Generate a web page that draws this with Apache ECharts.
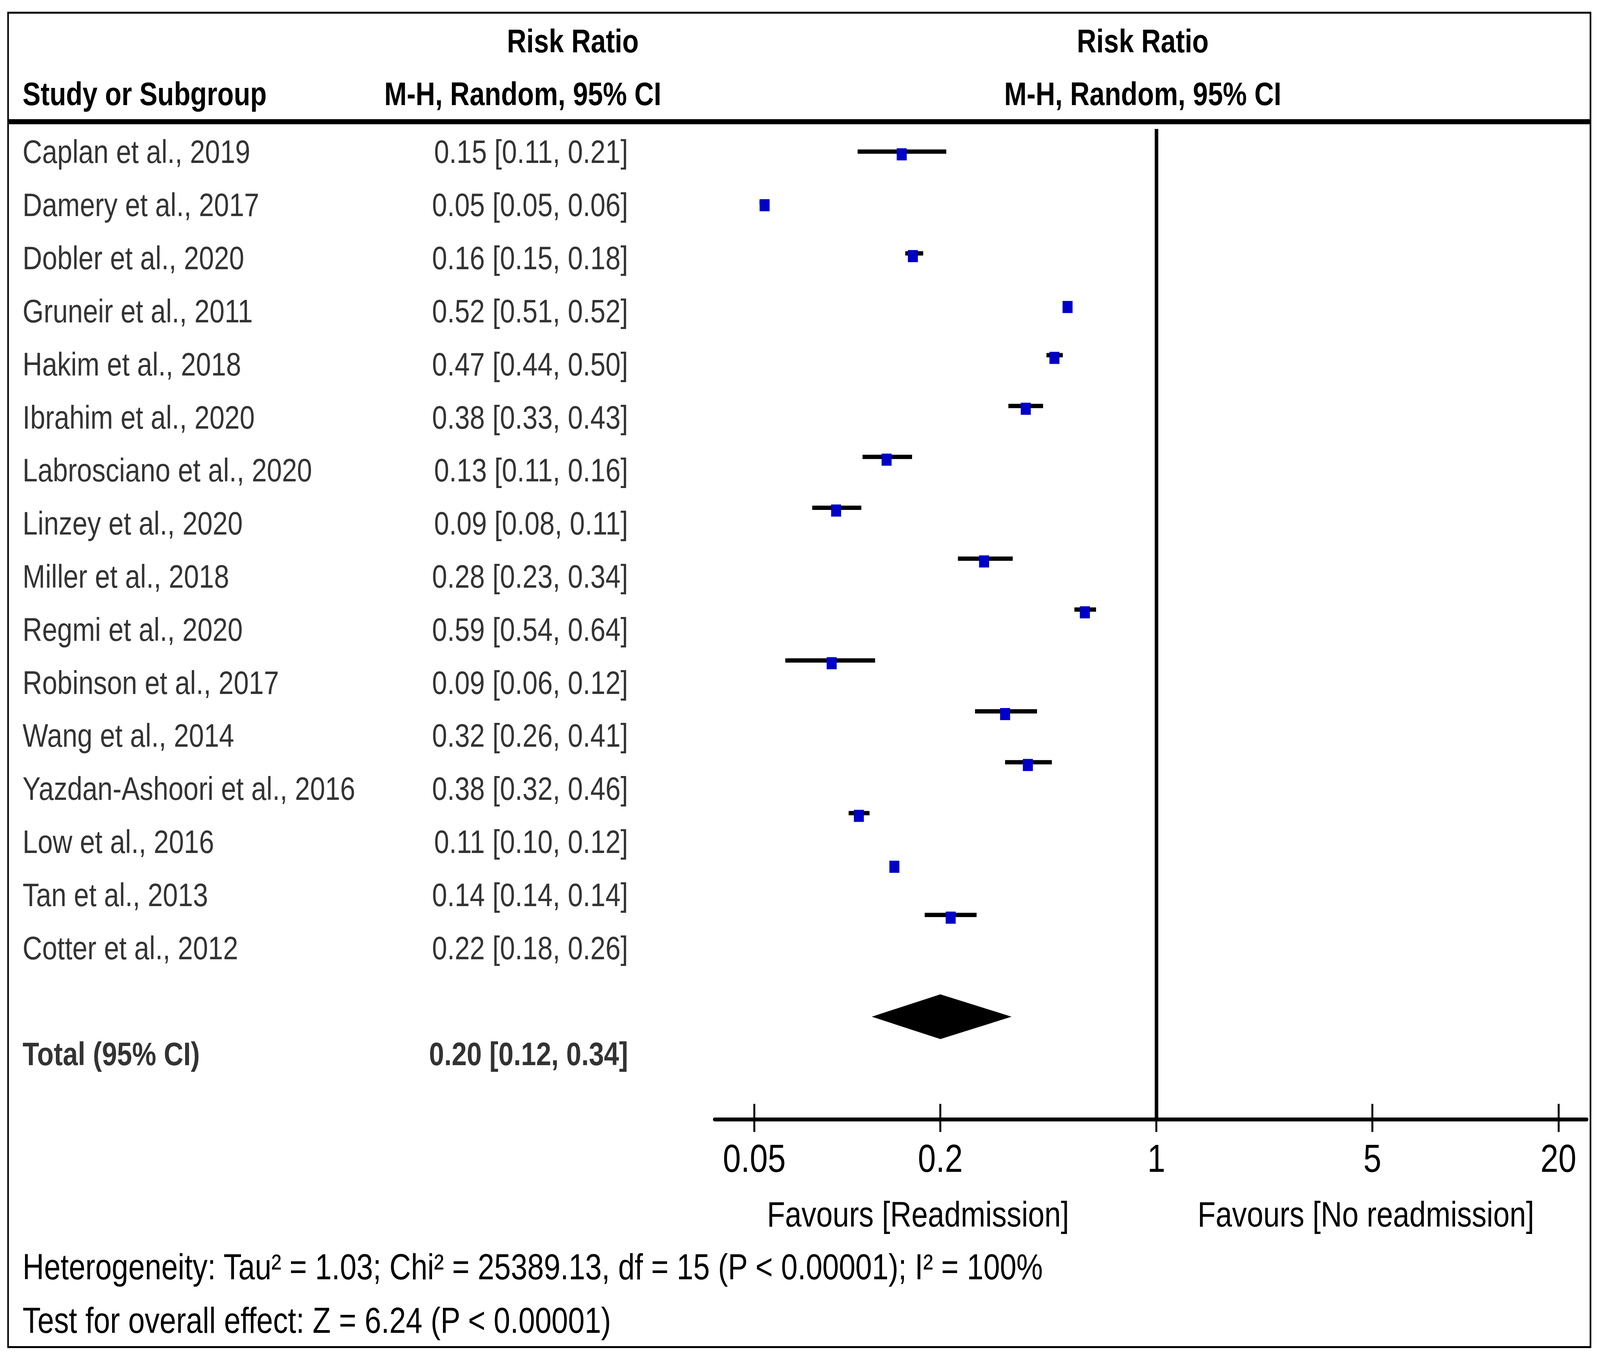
<!DOCTYPE html>
<html>
<head>
<meta charset="utf-8">
<script src="https://cdn.jsdelivr.net/npm/echarts@6/dist/echarts.min.js"></script>
<style>
html,body{margin:0;padding:0;background:#fff;overflow:hidden;width:100%;height:100%;}
#wrap{position:absolute;left:0;top:0;width:4955px;height:3478px;transform-origin:0 0;}
#chart{width:4955px;height:3478px;}
</style>
</head>
<body>
<div id="wrap"><div id="chart"></div></div>
<script>
// ---- data ----
const studies = [
  'Caplan et al., 2019', 'Damery et al., 2017', 'Dobler et al., 2020', 'Gruneir et al., 2011',
  'Hakim et al., 2018', 'Ibrahim et al., 2020', 'Labrosciano et al., 2020', 'Linzey et al., 2020',
  'Miller et al., 2018', 'Regmi et al., 2020', 'Robinson et al., 2017', 'Wang et al., 2014',
  'Yazdan-Ashoori et al., 2016', 'Low et al., 2016', 'Tan et al., 2013', 'Cotter et al., 2012'
];
const riskRatio = [0.150, 0.054, 0.163, 0.516, 0.468, 0.378, 0.134, 0.092, 0.277, 0.587, 0.089, 0.324, 0.384, 0.109, 0.142, 0.216];
const ciLower   = [0.108, 0.052, 0.154, 0.511, 0.441, 0.332, 0.112, 0.077, 0.228, 0.543, 0.063, 0.259, 0.324, 0.101, 0.140, 0.178];
const ciUpper   = [0.209, 0.056, 0.176, 0.522, 0.498, 0.430, 0.162, 0.111, 0.343, 0.638, 0.123, 0.411, 0.459, 0.118, 0.144, 0.262];
const totalLabel = 'Total (95% CI)';
const totalRR = 0.20, totalLower = 0.12, totalUpper = 0.34;
const tickValues = [0.05, 0.2, 1, 5, 20];
const tickLabels = ['0.05', '0.2', '1', '5', '20'];
const heterogeneityText = 'Heterogeneity: Tau\u00B2 = 1.03; Chi\u00B2 = 25389.13, df = 15 (P < 0.00001); I\u00B2 = 100%';
const overallText = 'Test for overall effect: Z = 6.24 (P < 0.00001)';
const favoursLeft = 'Favours [Readmission]';
const favoursRight = 'Favours [No readmission]';

// ---- the viewport may be narrower than 4955px: fit the 4955x3478 design into it ----
(function fit() {
  const kx = window.innerWidth / 4955, ky = window.innerHeight / 3478;
  document.getElementById('wrap').style.transform = 'scale(' + kx + ',' + ky + ')';
})();

// ---- helpers ----
const FONT = "'Liberation Sans', Arial, Helvetica, sans-serif";
const fmtCI = (r, l, u) => r.toFixed(2) + ' [' + l.toFixed(2) + ', ' + u.toFixed(2) + ']';
const totalRow = studies.length + 1;

const nameData = studies.map((s, i) => ({ value: [0, i], name: s }));
nameData.push({ value: [0, totalRow], name: totalLabel, label: { fontWeight: 'bold' } });
const ciTextData = studies.map((s, i) => ({ value: [1, i], name: fmtCI(riskRatio[i], ciLower[i], ciUpper[i]) }));
ciTextData.push({ value: [1, totalRow], name: fmtCI(totalRR, totalLower, totalUpper), label: { fontWeight: 'bold' } });

const whiskerData = studies.map((s, i) => [ciLower[i], ciUpper[i], i]);
const pointData = studies.map((s, i) => [riskRatio[i], i]);
const diamondData = [[totalLower, totalRR, totalUpper, totalRow]];

const chart = echarts.init(document.getElementById('chart'), null, { renderer: 'svg', width: 4955, height: 3478 });

const logAxisBase = {
  type: 'log', logBase: 10, gridIndex: 1, min: 0.0372, max: 24.7,
  splitLine: { show: false }, position: 'bottom'
};
const boldHead = (text, x, y) => ({ type: 'text', x: x, y: y, silent: true,
  style: { text: text, fontSize: 83.5, fontWeight: 'bold', fontFamily: FONT, fill: '#000',
           align: x < 100 ? 'left' : 'center', verticalAlign: 'middle' } });
const plainText = (text, x, y, size, align) => ({ type: 'text', x: x, y: y, silent: true,
  style: { text: text, fontSize: size, fontFamily: FONT, fill: '#000', align: align, verticalAlign: 'middle' } });

chart.setOption({
  animation: false,
  backgroundColor: '#ffffff',
  textStyle: { fontFamily: FONT },
  grid: [
    { left: 70, top: 388, width: 1875, height: (2697 - 388) },
    { left: 2213, top: 330, width: 2701, height: 2535 }
  ],
  xAxis: [
    { type: 'value', gridIndex: 0, min: 0, max: 1, show: false },
    Object.assign({}, logAxisBase, {
      axisLine: { show: true, onZero: false, lineStyle: { color: '#000', width: 10 } },
      axisTick: { show: true, inside: false, length: 32, lineStyle: { color: '#000', width: 6 }, customValues: tickValues },
      axisLabel: {
        show: true, customValues: tickValues, margin: 49,
        color: '#000', fontSize: 100, fontFamily: FONT,
        formatter: v => { const k = tickValues.findIndex(t => Math.abs(t - v) / t < 1e-6); return k >= 0 ? tickLabels[k] : ''; }
      }
    }),
    Object.assign({}, logAxisBase, {
      axisLine: { show: false, onZero: false },
      axisTick: { show: true, inside: true, length: 40, lineStyle: { color: '#000', width: 6 }, customValues: tickValues },
      axisLabel: { show: false }
    })
  ],
  yAxis: [
    { type: 'value', gridIndex: 0, min: 0, max: totalRow, inverse: true, show: false },
    { type: 'value', gridIndex: 1, min: -0.445, max: 19.02, inverse: true, show: false }
  ],
  series: [
    {
      type: 'scatter', xAxisIndex: 0, yAxisIndex: 0, symbolSize: 0, silent: true,
      data: nameData,
      label: { show: true, position: 'right', distance: 0, color: '#000', fontSize: 84, fontFamily: FONT, formatter: p => p.name }
    },
    {
      type: 'scatter', xAxisIndex: 0, yAxisIndex: 0, symbolSize: 0, silent: true,
      data: ciTextData,
      label: { show: true, position: 'left', distance: 0, color: '#000', fontSize: 84, fontFamily: FONT, formatter: p => p.name }
    },
    {
      type: 'custom', xAxisIndex: 1, yAxisIndex: 1, silent: true,
      data: whiskerData,
      encode: { x: [0, 1], y: 2 },
      renderItem: (params, api) => {
        const a = api.coord([api.value(0), api.value(2)]);
        const b = api.coord([api.value(1), api.value(2)]);
        return { type: 'line', shape: { x1: a[0], y1: a[1], x2: b[0], y2: b[1] }, style: { stroke: '#000', lineWidth: 11 } };
      },
      markLine: { silent: true, symbol: 'none', label: { show: false }, lineStyle: { color: '#000', width: 11, type: 'solid' }, data: [{ xAxis: 1 }] },
      z: 2
    },
    {
      type: 'scatter', xAxisIndex: 1, yAxisIndex: 1, silent: true,
      data: pointData, symbol: 'rect', symbolSize: 31, symbolOffset: [0, 7],
      itemStyle: { color: '#0000c8', opacity: 1 }, z: 3
    },
    {
      type: 'custom', xAxisIndex: 1, yAxisIndex: 1, silent: true,
      data: diamondData,
      encode: { x: [0, 1, 2], y: 3 },
      renderItem: (params, api) => {
        const y = api.value(3);
        const l = api.coord([api.value(0), y]);
        const m = api.coord([api.value(1), y]);
        const r = api.coord([api.value(2), y]);
        const h = api.size([0, 1])[1] * 0.44;
        return { type: 'polygon', shape: { points: [[l[0], l[1]], [m[0], m[1] - h], [r[0], r[1]], [m[0], m[1] + h]] }, style: { fill: '#000' } };
      },
      z: 3
    }
  ],
  graphic: [
    { type: 'rect', shape: { x: 25, y: 32.5, width: 4900.5, height: 3415 }, style: { fill: 'none', stroke: '#000', lineWidth: 5 }, silent: true },
    { type: 'rect', shape: { x: 25, y: 305, width: 4900, height: 13 }, style: { fill: '#000' }, silent: true },
    boldHead('Study or Subgroup', 70, 240),
    boldHead('Risk Ratio', 1774, 105),
    boldHead('M-H, Random, 95% CI', 1619, 240),
    boldHead('Risk Ratio', 3539, 105),
    boldHead('M-H, Random, 95% CI', 3539, 240),
    plainText(favoursLeft, 2843, 3107, 91.5, 'center'),
    plainText(favoursRight, 4230, 3107, 91.5, 'center'),
    plainText(heterogeneityText, 70, 3242, 92, 'left'),
    plainText(overallText, 70, 3379, 92, 'left')
  ]
});
</script>
</body>
</html>
